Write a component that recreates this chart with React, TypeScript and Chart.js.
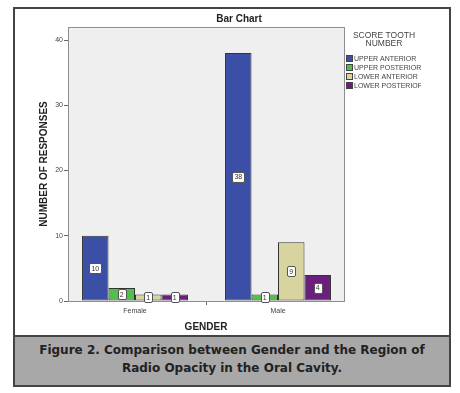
import React, { useEffect, useRef } from "react";
import { Chart, registerables } from "chart.js";

Chart.register(...registerables);

const categories = ["Female", "Male"];
const seriesLabels = ["UPPER ANTERIOR", "UPPER POSTERIOR", "LOWER ANTERIOR", "LOWER POSTERIOR"];
const upperAnterior = [10, 38];
const upperPosterior = [2, 1];
const lowerAnterior = [1, 9];
const lowerPosterior = [1, 4];
const seriesColors = ["#3B4FA6", "#55BD4B", "#D8D4A0", "#6B1F7C"];
const yTicks = [0, 10, 20, 30, 40];
const chartTitle = "Bar Chart";
const legendTitle = ["SCORE TOOTH", "NUMBER"];
const yTitle = "NUMBER OF RESPONSES";
const xTitle = "GENDER";
const captionLines = [
  "Figure 2. Comparison between Gender and the Region of",
  "Radio Opacity in the Oral Cavity.",
];

const FONT = "'Liberation Sans', Arial, sans-serif";

const decorPlugin = {
  id: "decor",
  beforeDraw(chart: any) {
    const { ctx, chartArea: a } = chart;
    ctx.save();
    ctx.fillStyle = "#EFEFEF";
    ctx.fillRect(a.left, a.top, a.right - a.left, a.bottom - a.top);
    ctx.restore();
  },
  afterDatasetsDraw(chart: any) {
    const { ctx, chartArea: a } = chart;
    ctx.save();
    ctx.strokeStyle = "#8E8E8E";
    ctx.lineWidth = 1;
    ctx.strokeRect(Math.round(a.left) + 0.5, Math.round(a.top) + 0.5, Math.round(a.right - a.left), Math.round(a.bottom - a.top));
    // value labels
    ctx.font = `7px ${FONT}`;
    ctx.textAlign = "center";
    ctx.textBaseline = "middle";
    chart.data.datasets.forEach((ds: any, di: number) => {
      const meta = chart.getDatasetMeta(di);
      meta.data.forEach((el: any, i: number) => {
        const txt = String(ds.data[i].y);
        const cx = el.x;
        const cy = (el.y + el.base) / 2;
        const w = ctx.measureText(txt).width + 4;
        const h = 10;
        ctx.fillStyle = "#FFFFFF";
        ctx.strokeStyle = "#555555";
        ctx.beginPath();
        (ctx as any).roundRect(Math.round(cx - w / 2) + 0.5, Math.round(cy - h / 2) + 0.5, Math.round(w), h, 1.5);
        ctx.fill();
        ctx.stroke();
        ctx.fillStyle = "#333333";
        ctx.fillText(txt, cx, cy + 0.5);
      });
    });
    ctx.restore();
  },
  afterDraw(chart: any) {
    const { ctx } = chart;
    ctx.save();
    // chart title
    ctx.fillStyle = "#222222";
    ctx.font = `bold 10px ${FONT}`;
    ctx.textAlign = "center";
    ctx.textBaseline = "middle";
    ctx.fillText(chartTitle, 223, 9);
    // legend
    ctx.font = `8.5px ${FONT}`;
    ctx.fillStyle = "#444444";
    legendTitle.forEach((t, i) => ctx.fillText(t, 368, 26 + i * 8));
    ctx.beginPath();
    ctx.rect(320, 40, 85, 50);
    ctx.clip();
    ctx.font = `7px ${FONT}`;
    ctx.textAlign = "left";
    chart.data.datasets.forEach((ds: any, i: number) => {
      const y = 48.5 + i * 9;
      ctx.fillStyle = ds.backgroundColor;
      ctx.fillRect(330, y - 3.5, 7, 7);
      ctx.strokeStyle = "#444";
      ctx.strokeRect(330.5, y - 3, 6, 6);
      ctx.fillStyle = "#444444";
      ctx.fillText(ds.label, 338, y + 0.5);
    });
    ctx.restore();
  },
};

export default function App() {
  const ref = useRef<HTMLCanvasElement | null>(null);
  useEffect(() => {
    if (!ref.current) return;
    const values = [upperAnterior, upperPosterior, lowerAnterior, lowerPosterior];
    const chart = new Chart(ref.current, {
      type: "bar",
      data: {
        datasets: values.map((v, i) => ({
          label: seriesLabels[i],
          data: v.map((y, ci) => ({ x: ci, y })),
          backgroundColor: seriesColors[i],
          borderColor: "#333333",
          borderWidth: 1,
          borderSkipped: false,
          categoryPercentage: 0.741,
          barPercentage: 1,
        })),
      },
      options: {
        responsive: false,
        animation: false,
        layout: { padding: { top: 17, right: 104, left: 0, bottom: 0 } },
        plugins: {
          legend: { display: false },
          title: { display: false },
          tooltip: { enabled: false },
        },
        scales: {
          x: {
            type: "linear",
            min: -0.4686,
            max: 1.4615,
            offset: false,
            afterBuildTicks(s: any) {
              s.ticks = categories.map((_, i) => ({ value: i }));
            },
            grid: { display: true, drawOnChartArea: false, tickLength: 4, color: "#666" },
            border: { display: false },
            ticks: {
              font: { size: 7, family: FONT },
              color: "#444",
              padding: 2,
              callback: (v: any) => categories[v] ?? "",
            },
            title: {
              display: true,
              text: xTitle,
              font: { size: 10, weight: "bold", family: FONT },
              color: "#222",
              padding: { top: 0, bottom: 2 },
            },
            afterFit(s: any) {
              s.height = 34;
            },
          },
          y: {
            min: 0,
            max: 42,
            afterBuildTicks(s: any) {
              s.ticks = yTicks.map((v) => ({ value: v }));
            },
            grid: { display: true, drawOnChartArea: false, tickLength: 4, color: "#666" },
            border: { display: false },
            ticks: { font: { size: 7, family: FONT }, color: "#444", padding: 1 },
            title: {
              display: true,
              text: yTitle,
              font: { size: 10, weight: "bold", family: FONT },
              color: "#222",
              padding: { top: 22, bottom: 0 },
            },
            afterFit(s: any) {
              s.width = 52;
            },
          },
        },
      },
      plugins: [decorPlugin],
    });
    return () => chart.destroy();
  }, []);

  return (
    <div style={{ position: "absolute", left: 0, top: 0, width: 460, height: 393, background: "#fff" }}>
      <div
        style={{
          position: "absolute",
          left: 13,
          top: 7,
          width: 438,
          height: 380,
          border: "2px solid #444",
          boxSizing: "border-box",
        }}
      />
      <canvas
        ref={ref}
        width={432}
        height={325}
        style={{ position: "absolute", left: 16, top: 10, width: 432, height: 325 }}
      />
      <div
        style={{
          position: "absolute",
          left: 15,
          top: 335,
          width: 434,
          height: 50,
          background: "#A8A8A8",
          borderTop: "2px solid #444",
          boxSizing: "border-box",
          paddingTop: 4,
          textAlign: "center",
          fontFamily: "'DejaVu Sans', Verdana, sans-serif",
          fontWeight: "bold",
          fontSize: 12,
          lineHeight: "18px",
          color: "#222",
          whiteSpace: "nowrap",
        }}
      >
        {captionLines.map((l, i) => (
          <div key={i}>{l}</div>
        ))}
      </div>
    </div>
  );
}
